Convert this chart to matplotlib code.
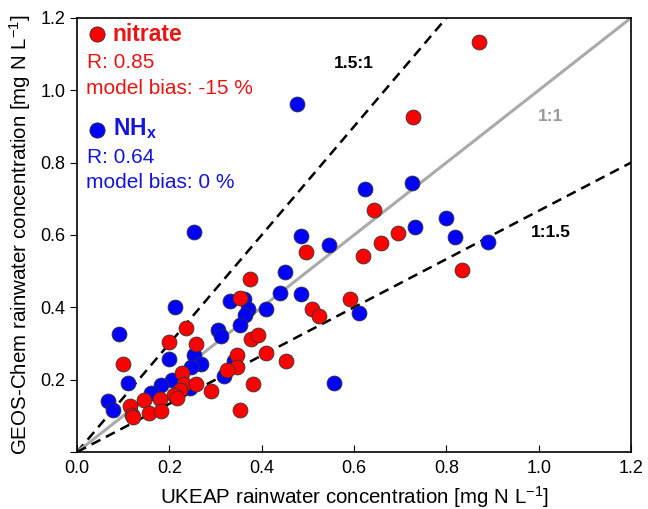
import numpy as np
import matplotlib
matplotlib.use('Agg')
import matplotlib.pyplot as plt

plt.rcParams['font.family'] = ['Liberation Sans', 'DejaVu Sans']
plt.rcParams['mathtext.fontset'] = 'custom'
plt.rcParams['mathtext.rm'] = 'Liberation Sans'
plt.rcParams['mathtext.it'] = 'Liberation Sans:italic'
plt.rcParams['mathtext.bf'] = 'Liberation Sans:bold'

# UKEAP (x) vs GEOS-Chem (y), mg N L-1
nitrate_obs = [0.870, 0.728, 0.642, 0.694, 0.658, 0.619, 0.495, 0.833, 0.375, 0.591,
               0.509, 0.523, 0.353, 0.377, 0.391, 0.409, 0.453, 0.347, 0.346, 0.324,
               0.382, 0.290, 0.352, 0.236, 0.258, 0.200, 0.099, 0.227, 0.232, 0.258,
               0.223, 0.210, 0.216, 0.180, 0.144, 0.115, 0.118, 0.121, 0.156, 0.182]
nitrate_mod = [1.133, 0.927, 0.668, 0.606, 0.577, 0.542, 0.553, 0.503, 0.477, 0.424,
               0.394, 0.376, 0.425, 0.311, 0.322, 0.274, 0.251, 0.267, 0.235, 0.226,
               0.188, 0.168, 0.117, 0.344, 0.299, 0.304, 0.244, 0.219, 0.189, 0.189,
               0.170, 0.158, 0.148, 0.146, 0.144, 0.126, 0.103, 0.097, 0.107, 0.114]

nhx_obs = [0.476, 0.624, 0.726, 0.798, 0.731, 0.819, 0.891, 0.484, 0.545, 0.450,
           0.439, 0.485, 0.409, 0.611, 0.557, 0.253, 0.331, 0.362, 0.371, 0.364,
           0.353, 0.305, 0.311, 0.253, 0.269, 0.247, 0.339, 0.319, 0.245, 0.212,
           0.091, 0.198, 0.110, 0.205, 0.182, 0.160, 0.066, 0.077]
nhx_mod = [0.961, 0.728, 0.743, 0.646, 0.623, 0.595, 0.581, 0.596, 0.572, 0.497,
           0.440, 0.438, 0.396, 0.383, 0.190, 0.607, 0.416, 0.422, 0.394, 0.378,
           0.351, 0.337, 0.320, 0.269, 0.242, 0.235, 0.251, 0.209, 0.177, 0.402,
           0.327, 0.257, 0.191, 0.200, 0.186, 0.163, 0.142, 0.117]

ratios = [1.5, 1.0, 1 / 1.5]
ratio_labels = ['1.5:1', '1:1', '1:1.5']

RED = '#ff0000'
BLUE = '#0000ff'
TRED = '#e81515'
TBLUE = '#1515d8'

fig = plt.figure(figsize=(6.48, 5.09), dpi=100)
ax = fig.add_axes([0.119, 0.112, 0.855, 0.853])

xx = np.array([0, 1.2])
for r in ratios:
    if r == 1.0:
        ax.plot(xx, r * xx, color='#aaaaaa', lw=2.2, zorder=1)
    else:
        ax.plot(xx, r * xx, color='black', lw=1.8, ls=(0, (4, 2.5)), zorder=1)

ax.scatter(nhx_obs, nhx_mod, s=115, c=BLUE, edgecolors='#333333', linewidths=0.6, zorder=3)
ax.scatter(nitrate_obs, nitrate_mod, s=115, c=RED, edgecolors='#333333', linewidths=0.6, zorder=3)

ax.text(0.60, 1.075, ratio_labels[0], fontsize=12.5, fontweight='bold', ha='center', va='center')
ax.text(1.025, 0.928, ratio_labels[1], fontsize=12.5, fontweight='bold', color='#999999',
        ha='center', va='center')
ax.text(1.025, 0.608, ratio_labels[2], fontsize=12.5, fontweight='bold', ha='center', va='center')

# stats block in the upper left
tr = ax.transAxes
ax.scatter([0.036], [0.962], s=120, c=RED, edgecolors='#333333', linewidths=0.6,
           transform=tr, clip_on=False, zorder=4)
ax.text(0.064, 0.962, 'nitrate', transform=tr, fontsize=16.5, fontweight='bold', color=TRED, va='center')
ax.text(0.018, 0.896, 'R: 0.85', transform=tr, fontsize=15, color=TRED, va='center')
ax.text(0.016, 0.838, 'model bias: -15 %', transform=tr, fontsize=15, color=TRED, va='center')
ax.scatter([0.036], [0.742], s=120, c=BLUE, edgecolors='#333333', linewidths=0.6,
           transform=tr, clip_on=False, zorder=4)
ax.text(0.064, 0.745, r'$\mathbf{NH_x}$', transform=tr, fontsize=16.5, color=TBLUE, va='center')
ax.text(0.018, 0.679, 'R: 0.64', transform=tr, fontsize=15, color=TBLUE, va='center')
ax.text(0.016, 0.620, 'model bias: 0 %', transform=tr, fontsize=15, color=TBLUE, va='center')

ax.set_xlim(0, 1.2)
ax.set_ylim(0, 1.2)
ax.set_xticks(np.arange(0, 1.21, 0.2))
ax.set_yticks(np.arange(0, 1.21, 0.2))
ax.set_xticklabels(['0.0', '0.2', '0.4', '0.6', '0.8', '1.0', '1.2'])
ax.set_yticklabels(['', '0.2', '0.4', '0.6', '0.8', '1.0', '1.2'])
ax.tick_params(axis='x', direction='in', length=5, labelsize=13, pad=6)
ax.tick_params(axis='y', direction='out', length=5, labelsize=13)
for s in ax.spines.values():
    s.set_linewidth(1.2)

ax.set_xlabel(r'UKEAP rainwater concentration [mg N L$^{\mathregular{-1}}$]', fontsize=14.8, labelpad=5)
ax.set_ylabel(r'GEOS-Chem rainwater concentration [mg N L$^{\mathregular{-1}}$]', fontsize=14.8, labelpad=5)

fig.savefig('out.png', dpi=100)
